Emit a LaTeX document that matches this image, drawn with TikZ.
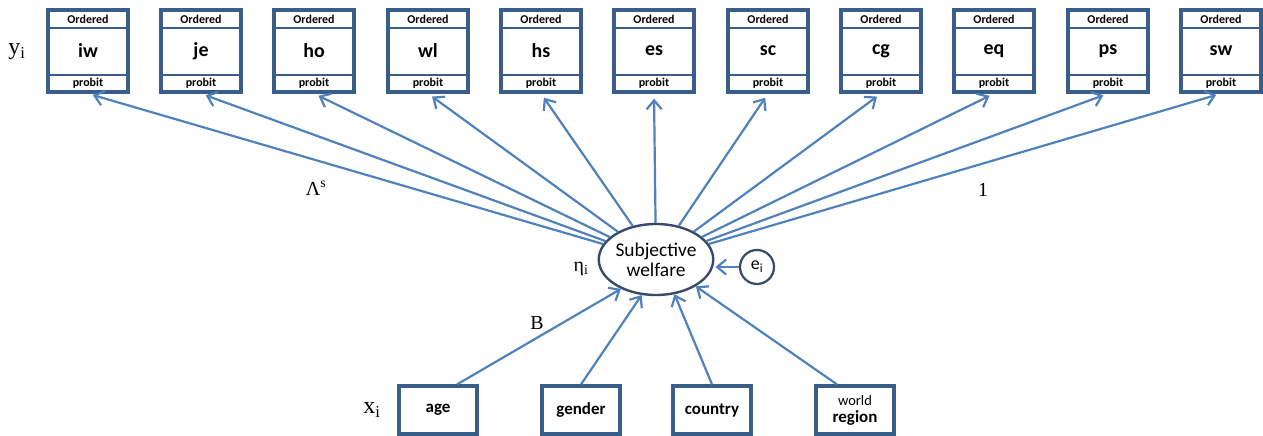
\documentclass[tikz,border=0pt]{standalone}
\usepackage{fontspec}
\setmainfont{Carlito}
\newfontfamily\serif{Liberation Serif}
\usetikzlibrary{arrows.meta,shapes.geometric}
\definecolor{boxblue}{RGB}{56,93,138}
\definecolor{arrowblue}{RGB}{79,129,189}
\definecolor{ringgray}{RGB}{55,75,105}
\tikzset{
	ybox/.style={draw=boxblue, line width=3.2bp, minimum width=80bp, minimum height=82bp, inner sep=0pt, font=\bfseries\fontsize{20}{20}\selectfont},
	xbox/.style={draw=boxblue, line width=3.2bp, minimum width=78bp, minimum height=48bp, inner sep=0pt, align=center, font=\bfseries\fontsize{17}{17}\selectfont},
	tag/.style={inner sep=0pt, font=\bfseries\fontsize{12}{12}\selectfont},
	sym/.style={inner sep=0pt, font=\serif\fontsize{20}{20}\selectfont},
	arr/.style={draw=arrowblue, line width=2.2bp, -{Straight Barb[length=9bp,width=15bp]}}
}
\def\outbox(#1)#2{
	\node[ybox] (#2) at (#1, 51) {#2};
	\draw[boxblue, line width=2.6bp] (#1-40, 28) -- (#1+40, 28);
	\draw[boxblue, line width=2.6bp] (#1-40, 75) -- (#1+40, 75);
	\node[tag] at (#1, 19) {Ordered};
	\node[tag] at (#1, 83.5) {probit};
}

\begin{document}
\begin{tikzpicture}[x=1bp, y=-1bp]
			%%%%% START %%%%%
			\useasboundingbox (0, 0) rectangle (1263, 436);
			
			\outbox(88){iw}
			\outbox(201){je}
			\outbox(314){ho}
			\outbox(428){wl}
			\outbox(541){hs}
			\outbox(654){es}
			\outbox(768){sc}
			\outbox(881){cg}
			\outbox(994){eq}
			\outbox(1108){ps}
			\outbox(1221){sw}
			
			\node[ellipse, draw=ringgray, line width=2.4bp, minimum width=102bp, minimum height=71bp, inner sep=0pt, font=\fontsize{19.5}{20}\selectfont, align=center] (welfare) at (656, 259.5) {Subjective\\welfare};
			\node[circle, draw=ringgray, line width=2.2bp, minimum size=34bp, inner sep=0pt, font=\fontsize{18}{18}\selectfont] (err) at (757, 267) {e\textsubscript{i}};
			
			\node[xbox] (age) at (438, 410) {age};
			\node[xbox] (gender) at (581, 410) {gender};
			\node[xbox] (country) at (712, 410) {country};
			\node[xbox] (region) at (855, 410) {{\mdseries\fontsize{14.5}{15}\selectfont world}\\region};
			
			\node[sym, font=\serif\fontsize{24}{24}\selectfont] (ylab) at (17, 52) {y\textsubscript{i}};
			\node[sym, font=\serif\fontsize{24}{24}\selectfont] (xlab) at (372, 410) {x\textsubscript{i}};
			\node[sym] (etalab) at (581, 269) {η\textsubscript{i}};
			\node[sym] (lamlab) at (316, 188) {Λ\textsuperscript{s}};
			\node[sym] (onelab) at (983, 190) {1};
			\node[sym] (blab) at (537, 323) {B};
			
			\foreach \o in {iw,je,ho,wl,hs,es,sc,cg,eq,ps,sw}
				\draw[arr, shorten >=5bp] (welfare) -- (\o.south);
			
			\draw[arr, shorten >=1bp] (err.west) -- (err.west -| welfare.east);
			
			\draw[arr] ([xshift=19bp]age.north) -- (welfare.220);
			\draw[arr] (gender.north) -- (welfare.248);
			\draw[arr] (country.north) -- (welfare.298);
			\draw[arr] ([xshift=-18bp]region.north) -- (welfare.326);
			
			%%%%% END %%%%%
\end{tikzpicture}
\end{document}
